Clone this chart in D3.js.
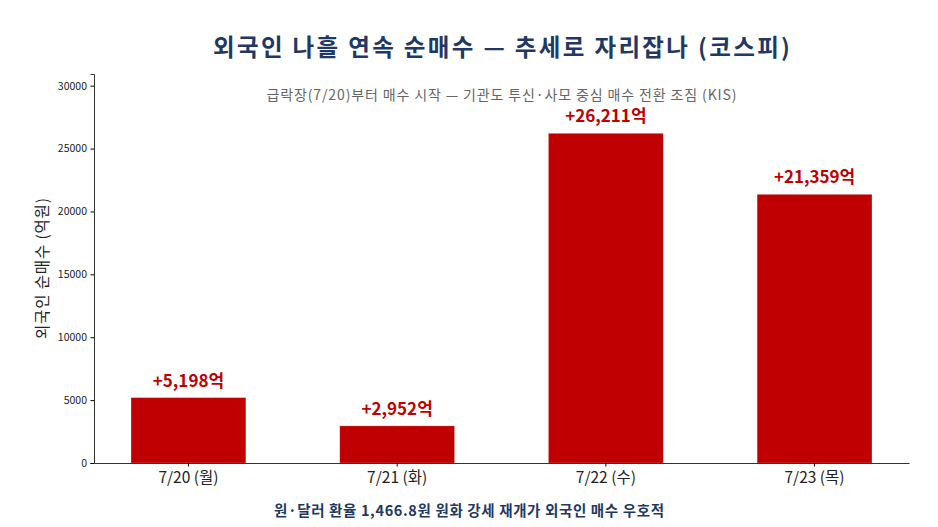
<!DOCTYPE html>
<html>
<head>
<meta charset="utf-8">
<title>외국인 순매수</title>
<script src="https://d3js.org/d3.v7.min.js"></script>
<style>
  body { margin: 0; background: #fff; }
  text { font-family: "Noto Sans CJK KR", "Noto Sans", sans-serif; }
</style>
</head>
<body>
<div id="chart"></div>
<script>
// data
var days = ["7/20 (월)", "7/21 (화)", "7/22 (수)", "7/23 (목)"];
var netBuy = [5198, 2952, 26211, 21359];
var yTicks = [0, 5000, 10000, 15000, 20000, 25000, 30000];

var W = 938, H = 527;
var margin = {top: 74, right: 29, bottom: 64, left: 94};
var width = W - margin.left - margin.right,
    height = H - margin.top - margin.bottom;

var svg = d3.select("#chart").append("svg")
    .attr("width", W)
    .attr("height", H);

var g = svg.append("g")
    .attr("transform", "translate(" + margin.left + "," + margin.top + ")");

var x = d3.scaleBand()
    .domain(days)
    .range([0, width])
    .paddingInner(0.45)
    .paddingOuter(0.1775);

var y = d3.scaleLinear()
    .domain([0, d3.max(netBuy) * 1.18])
    .range([height, 0]);

// bars
g.selectAll("rect.bar")
    .data(netBuy)
    .enter().append("rect")
    .attr("class", "bar")
    .attr("x", function(d, i) { return x(days[i]); })
    .attr("y", function(d) { return y(d); })
    .attr("width", x.bandwidth())
    .attr("height", function(d) { return height - y(d); })
    .attr("fill", "#c00000")
    .attr("stroke", "#ffffff")
    .attr("stroke-opacity", 0.25)
    .attr("stroke-width", 0.8);

// value labels
g.selectAll("text.val")
    .data(netBuy)
    .enter().append("text")
    .attr("class", "val")
    .attr("x", function(d, i) { return x(days[i]) + x.bandwidth() / 2; })
    .attr("y", function(d) { return y(d) - 11; })
    .attr("text-anchor", "middle")
    .attr("fill", "#c00000")
    .attr("font-size", "17px")
    .attr("font-weight", "bold")
    .text(function(d) { return "+" + d3.format(",")(d) + "억"; });

// axes
var yAxis = g.append("g")
    .call(d3.axisLeft(y).tickValues(yTicks).tickFormat(d3.format("d")).tickSize(3.5).tickPadding(3.5));
yAxis.selectAll("text").attr("font-size", "10.5px").attr("fill", "#222");
yAxis.select(".domain").attr("stroke", "#333");

var xAxis = g.append("g")
    .attr("transform", "translate(0," + height + ")")
    .call(d3.axisBottom(x).tickSize(3.5).tickPadding(5).tickSizeOuter(0));
xAxis.selectAll("text").attr("font-size", "15.5px").attr("fill", "#222");
xAxis.select(".domain").attr("stroke", "#333");

// y label
svg.append("text")
    .attr("transform", "translate(48," + (margin.top + height / 2) + ") rotate(-90)")
    .attr("text-anchor", "middle")
    .attr("font-size", "15.5px")
    .attr("fill", "#222")
    .attr("textLength", 141)
    .attr("lengthAdjust", "spacing")
    .text("외국인 순매수 (억원)");

// title
svg.append("text")
    .attr("x", margin.left + width / 2)
    .attr("y", 56)
    .attr("text-anchor", "middle")
    .attr("font-size", "23.5px")
    .attr("font-weight", "bold")
    .attr("fill", "#1f3864")
    .attr("textLength", 577)
    .attr("lengthAdjust", "spacing")
    .text("외국인 나흘 연속 순매수 — 추세로 자리잡나 (코스피)");

// subtitle
svg.append("text")
    .attr("x", margin.left + width / 2)
    .attr("y", 100)
    .attr("text-anchor", "middle")
    .attr("font-size", "14px")
    .attr("fill", "#666")
    .attr("textLength", 470)
    .attr("lengthAdjust", "spacing")
    .text("급락장(7/20)부터 매수 시작 — 기관도 투신·사모 중심 매수 전환 조짐 (KIS)");

// footnote
svg.append("text")
    .attr("x", W / 2)
    .attr("y", 516)
    .attr("text-anchor", "middle")
    .attr("font-size", "14.5px")
    .attr("font-weight", "bold")
    .attr("fill", "#1f3864")
    .attr("textLength", 390)
    .attr("lengthAdjust", "spacing")
    .text("원·달러 환율 1,466.8원 원화 강세 재개가 외국인 매수 우호적");
</script>
</body>
</html>
